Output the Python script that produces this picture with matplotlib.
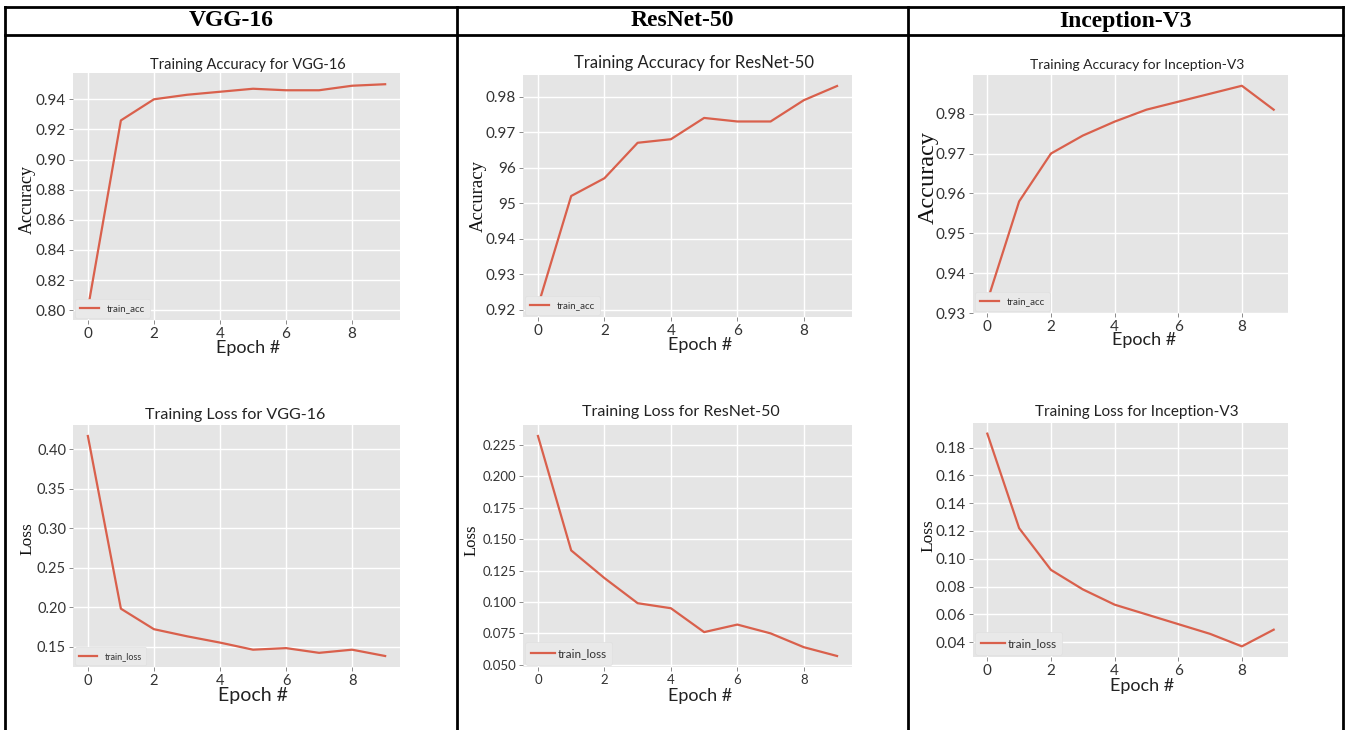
import matplotlib
matplotlib.use('Agg')
import matplotlib.pyplot as plt
from matplotlib.lines import Line2D

plt.style.use('ggplot')

W, H = 1348, 730

# ---------------- data ----------------
epochs = list(range(10))
column_headers = ['VGG-16', 'ResNet-50', 'Inception-V3']

vgg_acc = [0.801, 0.926, 0.940, 0.943, 0.945, 0.947, 0.946, 0.946, 0.949, 0.950]
resnet_acc = [0.921, 0.952, 0.957, 0.967, 0.968, 0.974, 0.973, 0.973, 0.979, 0.983]
incep_acc = [0.933, 0.958, 0.970, 0.9745, 0.978, 0.981, 0.983, 0.985, 0.987, 0.981]

vgg_loss = [0.417, 0.198, 0.172, 0.163, 0.155, 0.146, 0.148, 0.142, 0.146, 0.138]
resnet_loss = [0.232, 0.141, 0.119, 0.099, 0.095, 0.076, 0.082, 0.075, 0.064, 0.057]
incep_loss = [0.190, 0.122, 0.092, 0.078, 0.067, 0.060, 0.053, 0.046, 0.037, 0.049]

x_ticks = [0, 2, 4, 6, 8]
vgg_acc_ticks = [0.80, 0.82, 0.84, 0.86, 0.88, 0.90, 0.92, 0.94]
vgg_acc_labels = ['0.80', '0.82', '0.84', '0.86', '0.88', '0.90', '0.92', '0.94']
resnet_acc_ticks = [0.92, 0.93, 0.94, 0.95, 0.96, 0.97, 0.98]
resnet_acc_labels = ['0.92', '0.93', '0.94', '95', '96', '0.97', '0.98']
incep_acc_ticks = [0.93, 0.94, 0.95, 0.96, 0.97, 0.98]
incep_acc_labels = ['0.93', '0.94', '0.95', '0.96', '0.97', '0.98']
vgg_loss_ticks = [0.15, 0.20, 0.25, 0.30, 0.35, 0.40]
vgg_loss_labels = ['0.15', '0.20', '0.25', '0.30', '0.35', '0.40']
resnet_loss_ticks = [0.050, 0.075, 0.100, 0.125, 0.150, 0.175, 0.200, 0.225]
resnet_loss_labels = ['0.050', '0.075', '0.100', '0.125', '0.150', '0.175', '0.200', '0.225']
incep_loss_ticks = [0.04, 0.06, 0.08, 0.10, 0.12, 0.14, 0.16, 0.18]
incep_loss_labels = ['0.04', '0.06', '0.08', '0.10', '0.12', '0.14', '0.16', '0.18']

LINE = '#D9604C'
SANS = ['Lato', 'DejaVu Sans']
SERIF = ['Liberation Serif', 'DejaVu Serif']

fig = plt.figure(figsize=(W / 100, H / 100), dpi=100)
fig.patch.set_facecolor('white')


def px_rect(x0, y0, x1, y1):
    return [x0 / W, 1 - y1 / H, (x1 - x0) / W, (y1 - y0) / H]


def fx(x):
    return x / W


def fy(y):
    return 1 - y / H


panels = [
    dict(box=(73, 73, 400, 320), y=vgg_acc, lab='train_acc',
         title='Training Accuracy for VGG-16', tpos=(248, 65), tsize=10.5,
         ylab='Accuracy', ypos=(27, 199), ysize=13,
         xpos=(248, 348), xsize=13, yt=vgg_acc_ticks, ytl=vgg_acc_labels,
         tick=11, lsize=7, htp=0.8),
    dict(box=(523, 75, 852, 317), y=resnet_acc, lab='train_acc',
         title='Training Accuracy for ResNet-50', tpos=(694, 63), tsize=12,
         ylab='Accuracy', ypos=(478, 196), ysize=13.5,
         xpos=(700, 345), xsize=13, yt=resnet_acc_ticks, ytl=resnet_acc_labels,
         tick=11, lsize=7, htp=0.8),
    dict(box=(973, 75, 1288, 313), y=incep_acc, lab='train_acc',
         title='Training Accuracy for Inception-V3', tpos=(1137, 65), tsize=10,
         ylab='Accuracy', ypos=(928, 177), ysize=17.5,
         xpos=(1144, 340), xsize=13, yt=incep_acc_ticks, ytl=incep_acc_labels,
         tick=11, lsize=7, htp=0.8),
    dict(box=(73, 425, 400, 667), y=vgg_loss, lab='train_loss',
         title='Training Loss for VGG-16', tpos=(235, 415), tsize=11.5,
         ylab='Loss', ypos=(27, 539), ysize=12.5,
         xpos=(253, 695), xsize=14, yt=vgg_loss_ticks, ytl=vgg_loss_labels,
         tick=10.5, lsize=6.5, htp=0.8),
    dict(box=(523, 425, 852, 667), y=resnet_loss, lab='train_loss',
         title='Training Loss for ResNet-50', tpos=(681, 412), tsize=11.5,
         ylab='Loss', ypos=(472, 540), ysize=12,
         xpos=(700, 696), xsize=13, yt=resnet_loss_ticks, ytl=resnet_loss_labels,
         tick=9.5, lsize=8.5, htp=0.2),
    dict(box=(973, 423, 1288, 657), y=incep_loss, lab='train_loss',
         title='Training Loss for Inception-V3', tpos=(1137, 412), tsize=11,
         ylab='Loss', ypos=(928, 536), ysize=12.5,
         xpos=(1142, 686), xsize=13, yt=incep_loss_ticks, ytl=incep_loss_labels,
         tick=11, lsize=8.5, htp=0.2),
]

for p in panels:
    ax = fig.add_axes(px_rect(*p['box']))
    ax.set_facecolor('#E5E5E5')
    ax.plot(epochs, p['y'], color=LINE, linewidth=1.6, label=p['lab'])
    ax.set_xticks(x_ticks)
    ax.set_xticklabels([str(t) for t in x_ticks], fontsize=p['tick'],
                       family=SANS, color='#333333')
    ax.set_yticks(p['yt'])
    ax.set_yticklabels(p['ytl'], fontsize=p['tick'], family=SANS, color='#333333')
    ax.grid(True, color='white', linewidth=1.0)
    ax.tick_params(axis='both', direction='out', length=3, width=0.6,
                   color='#777777', pad=2)
    for s in ax.spines.values():
        s.set_visible(False)
    fig.text(fx(p['tpos'][0]), fy(p['tpos'][1]), p['title'], ha='center', va='center',
             fontsize=p['tsize'], family=SANS, color='#222222')
    ax.set_xlabel('Epoch #', fontsize=p['xsize'], family=SANS, color='#222222', va='center')
    ax.xaxis.set_label_coords(fx(p['xpos'][0]), fy(p['xpos'][1]), transform=fig.transFigure)
    ax.set_ylabel(p['ylab'], fontsize=p['ysize'], family=SERIF, color='#111111', va='center')
    ax.yaxis.set_label_coords(fx(p['ypos'][0]), fy(p['ypos'][1]), transform=fig.transFigure)
    leg = ax.legend(loc='lower left', frameon=True,
                    handlelength=2.0, handletextpad=p['htp'], borderpad=0.5,
                    borderaxespad=0.2, prop={'family': SANS, 'size': p['lsize']})
    leg.get_frame().set_facecolor('#E9E9E9')
    leg.get_frame().set_edgecolor('#E0E0E0')
    leg.get_frame().set_alpha(1)
    for t in leg.get_texts():
        t.set_color('#333333')

# ---------------- table frame ----------------
LW = 2.0
left_x, right_x = 5, 1343
top_y, head_y = 7, 35
col_x = [457, 908]
fig.add_artist(Line2D([fx(left_x), fx(right_x)], [fy(top_y), fy(top_y)],
                      transform=fig.transFigure, color='black', linewidth=LW))
fig.add_artist(Line2D([fx(left_x), fx(right_x)], [fy(head_y), fy(head_y)],
                      transform=fig.transFigure, color='black', linewidth=LW))
for xv in [left_x] + col_x + [right_x]:
    fig.add_artist(Line2D([fx(xv), fx(xv)], [fy(top_y), 0],
                          transform=fig.transFigure, color='black', linewidth=LW))

col_bounds = [left_x] + col_x + [right_x]
for i, name in enumerate(column_headers):
    cx = (col_bounds[i] + col_bounds[i + 1]) / 2
    fig.text(fx(cx), fy(21), name, ha='center', va='center', fontsize=17,
             fontweight='bold', family=SERIF, color='black')

fig.savefig('out.png', dpi=100, facecolor='white')
